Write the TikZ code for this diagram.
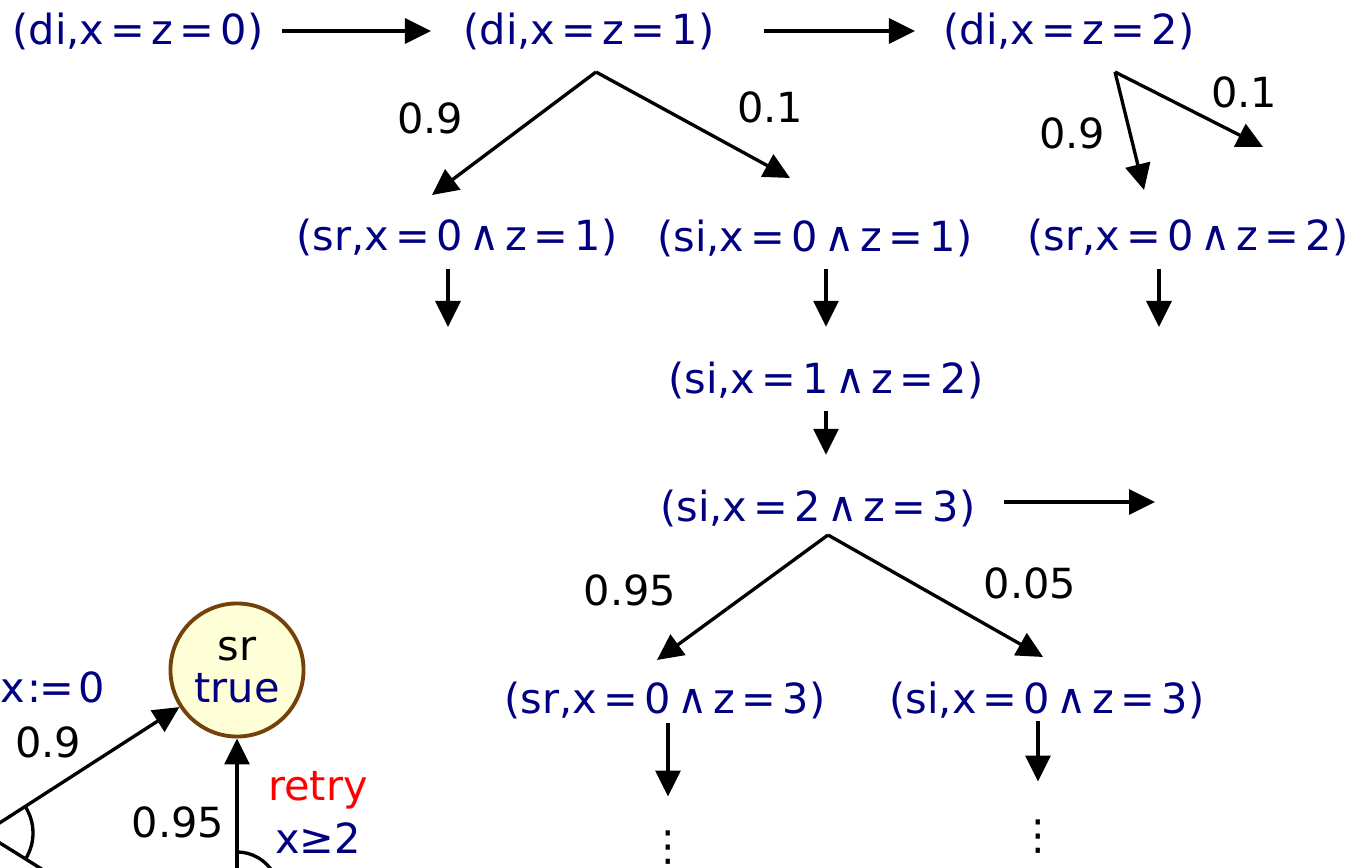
\documentclass[tikz,border=0pt]{standalone}
\usepackage{fontspec}
\setmainfont{DejaVu Sans}
\usetikzlibrary{arrows.meta, calc}
\definecolor{stnavy}{RGB}{0,0,128}
\definecolor{locbrown}{RGB}{115,65,10}
\definecolor{locfill}{RGB}{255,255,215}
\newcommand{\statefont}{\fontsize{11.8pt}{13pt}\selectfont}
\newcommand{\eq}{\hspace{0.15em}=\hspace{0.15em}}
\newcommand{\conj}{\hspace{0.15em}∧\hspace{0.15em}}

\begin{document}
\begin{tikzpicture}[
  x=0.01cm, y=-0.01cm,
  state/.style={text=stnavy, inner sep=0pt, font=\statefont},
  prob/.style={inner sep=0pt, font=\statefont},
  arr/.style={-{Triangle[length=0.26cm, width=0.25cm]}, line width=0.95pt},
  loc/.style={circle, draw=locbrown, fill=locfill, line width=1.1pt,
              minimum size=1.33cm, inner sep=0pt, align=center, font=\statefont}
]
\useasboundingbox (0,0) rectangle (1368,868);
\clip (0,0) rectangle (1368,868);

% unfolded states
\node[state] (d0) at (138,31) {(di,x\eq z\eq 0)};
\node[state] (d1) at (589,31) {(di,x\eq z\eq 1)};
\node[state] (d2) at (1069,31) {(di,x\eq z\eq 2)};
\node[state] (sr1) at (457,238) {(sr,x\eq 0\conj z\eq 1)};
\node[state] (si1) at (815,238) {(si,x\eq 0\conj z\eq 1)};
\node[state] (sr2) at (1188,238) {(sr,x\eq 0\conj z\eq 2)};
\node[state] (si2) at (826,380) {(si,x\eq 1\conj z\eq 2)};
\node[state] (si3) at (818,508) {(si,x\eq 2\conj z\eq 3)};
\node[state] (sr3) at (665,700) {(sr,x\eq 0\conj z\eq 3)};
\node[state] (si4) at (1047,700) {(si,x\eq 0\conj z\eq 3)};
\node[prob] (dots1) at (668,848) {⋮};
\node[prob] (dots2) at (1038,837) {⋮};

% branch points and open ends
\coordinate (fork1) at (596,72);
\coordinate (fork1l) at (432,195);
\coordinate (fork1r) at (790,178);
\coordinate (fork2) at (1115,72);
\coordinate (fork2l) at (1144,190);
\coordinate (fork2r) at (1263,147);
\coordinate (fork5) at (828,535);
\coordinate (fork5l) at (657,660);
\coordinate (fork5r) at (1043,657);
\coordinate (sr1out) at (448,327);
\coordinate (sr2out) at (1159,327);
\coordinate (si3out) at (1155,502);
\coordinate (col) at (826,0);

\draw[arr, shorten <=0.18cm, shorten >=0.32cm] (d0) -- (d1);
\draw[arr, shorten <=0.49cm, shorten >=0.28cm] (d1) -- (d2);
\draw[arr] (fork1) -- (fork1l);
\draw[arr] (fork1) -- (fork1r);
\node[prob] (p1) at (430,118) {0.9};
\node[prob] (p2) at (770,107) {0.1};
\draw[arr] (fork2) -- (fork2l);
\draw[arr] (fork2) -- (fork2r);
\node[prob] (p3) at (1072,133) {0.9};
\node[prob] (p4) at (1244,92) {0.1};

\draw[arr, shorten <=0.12cm] (sr1.south -| sr1out) -- (sr1out);
\draw[arr, shorten <=0.12cm] (sr2.south -| sr2out) -- (sr2out);
\draw[arr, shorten <=0.12cm, shorten >=0.34cm] (si1.south -| col) -- (si2.north -| col);
\draw[arr, shorten <=0.12cm, shorten >=0.34cm] (si2.south -| col) -- (si3.north -| col);
\draw[arr, shorten <=0.28cm] (si3.east |- si3out) -- (si3out);

\draw[arr] (fork5) -- (fork5l);
\draw[arr] (fork5) -- (fork5r);
\node[prob] (p5) at (630,590) {0.95};
\node[prob] (p6) at (1030,583) {0.05};

\draw[arr, shorten <=0.04cm, shorten >=0.34cm] (sr3.south -| dots1) -- (dots1.north);
\draw[arr, shorten <=0.02cm, shorten >=0.38cm] (si4.south -| dots2) -- (dots2.north);

% automaton
\node[loc] (srloc) at (237,670) {sr\\[-1pt]\textcolor{stnavy}{true}};
\coordinate (fork3) at (-16,833);
\coordinate (fork3low) at ([shift={(32:150)}]fork3);
\coordinate (fork4) at (237,894);
\draw[arr] (fork3) -- (srloc);
\draw[line width=0.95pt] (fork3) -- (fork3low);
\draw[line width=0.95pt] ([shift={(-33:49)}]fork3) arc[start angle=-33, end angle=32, radius=49];
\draw[arr] (fork4) -- (srloc);
\draw[line width=0.95pt] ([shift={(-90:42)}]fork4) arc[start angle=-90, end angle=10, radius=42];
\node[state] (reset) at (53,687) {x\hspace{0.05em}:\hspace{-0.05em}=\hspace{0.12em}0};
\node[prob] (p7) at (48,742) {0.9};
\node[prob] (p8) at (178,822) {0.95};
\node[prob, text=red] (act) at (318,790) {retry};
\node[state] (guard) at (318,838) {x≥2};
\end{tikzpicture}
\end{document}
